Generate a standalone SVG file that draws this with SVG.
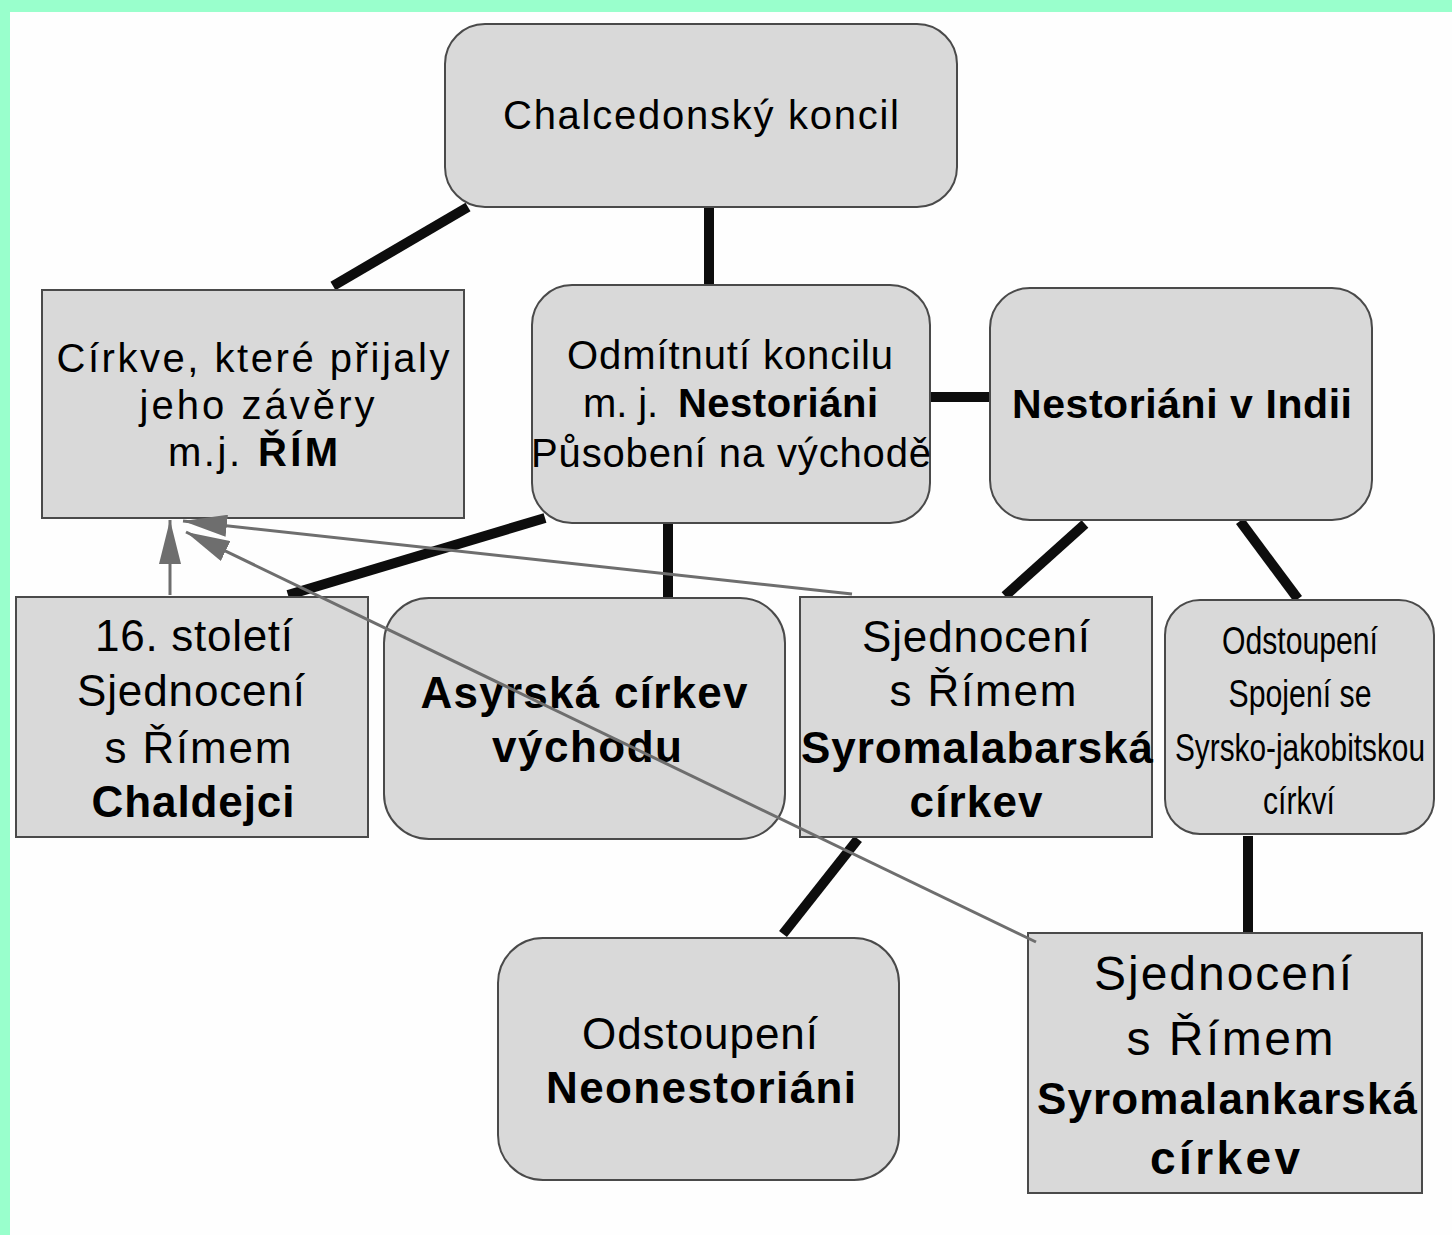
<svg xmlns="http://www.w3.org/2000/svg" width="1452" height="1235" viewBox="0 0 1452 1235">
<defs>
<style>
.box{fill:#d9d9d9;stroke:#4a4a4a;stroke-width:2}
.t{font-family:"Liberation Sans",Arial,sans-serif;fill:#000;text-anchor:middle}
.ts{font-family:"Liberation Sans",Arial,sans-serif;fill:#000;text-anchor:start}
.b{font-weight:bold}
.conn{stroke:#0d0d0d;stroke-width:10;fill:none;stroke-linecap:butt}
.arr{stroke:#6e6e6e;stroke-width:3;fill:none}
</style>
<marker id="ah" viewBox="0 0 44 22" refX="44" refY="11" markerWidth="44" markerHeight="22" markerUnits="userSpaceOnUse" orient="auto">
<path d="M0,0 L44,11 L0,22 z" fill="#6e6e6e"/>
</marker>
</defs>
<rect x="0" y="0" width="1452" height="1235" fill="#fefefe"/>
<rect x="0" y="0" width="1452" height="12" fill="#99ffcc"/>
<rect x="0" y="0" width="10" height="1235" fill="#99ffcc"/>

<g id="connectors">
<line class="conn" x1="468" y1="207" x2="333" y2="286"/>
<line class="conn" x1="709" y1="208" x2="709" y2="285"/>
<line class="conn" x1="930" y1="397" x2="990" y2="397"/>
<line class="conn" x1="545" y1="518" x2="288" y2="595"/>
<line class="conn" x1="668" y1="524" x2="668" y2="598"/>
<line class="conn" x1="1085" y1="524" x2="1005" y2="596"/>
<line class="conn" x1="1240" y1="521" x2="1298" y2="599"/>
<line class="conn" x1="858" y1="839" x2="783" y2="934"/>
<line class="conn" x1="1248" y1="836" x2="1248" y2="933"/>
</g>

<g id="n1"><rect class="box" x="445" y="24" width="512" height="183" rx="40"/>
<text class="t" x="701" y="129" font-size="40" textLength="396">Chalcedonský koncil</text></g>

<g id="n2"><rect class="box" x="42" y="290" width="422" height="228"/>
<text class="t" x="253" y="372" font-size="40" textLength="393">Církve, které přijaly</text>
<text class="t" x="257" y="419" font-size="40" textLength="235">jeho závěry</text>
<text class="ts" x="168" y="466" font-size="40" textLength="72">m.j.</text>
<text class="ts b" x="258" y="466" font-size="40" textLength="80">ŘÍM</text></g>

<g id="n3"><rect class="box" x="532" y="285" width="398" height="238" rx="40"/>
<text class="t" x="730" y="369" font-size="40" textLength="326">Odmítnutí koncilu</text>
<text class="ts" x="583" y="417" font-size="40" textLength="75">m. j.</text>
<text class="ts b" x="678" y="417" font-size="40" textLength="200">Nestoriáni</text>
<text class="t" x="731" y="467" font-size="40" textLength="400">Působení na východě</text></g>

<g id="n4"><rect class="box" x="990" y="288" width="382" height="232" rx="40"/>
<text class="t b" x="1182" y="418" font-size="41" textLength="340">Nestoriáni v Indii</text></g>

<g id="n5"><rect class="box" x="16" y="597" width="352" height="240"/>
<text class="t" x="194" y="651" font-size="44" textLength="198">16. století</text>
<text class="t" x="191" y="706" font-size="44" textLength="228">Sjednocení</text>
<text class="t" x="198" y="763" font-size="44" textLength="187">s Římem</text>
<text class="t b" x="193" y="817" font-size="44" textLength="203">Chaldejci</text></g>

<g id="n6"><rect class="box" x="384" y="598" width="401" height="241" rx="45"/>
<text class="t b" x="584" y="708" font-size="44" textLength="327">Asyrská církev</text>
<text class="t b" x="587" y="762" font-size="44" textLength="190">východu</text></g>

<g id="n7"><rect class="box" x="800" y="597" width="352" height="240"/>
<text class="t" x="976" y="652" font-size="44" textLength="228">Sjednocení</text>
<text class="t" x="983" y="706" font-size="44" textLength="187">s Římem</text>
<text class="t b" x="977" y="763" font-size="44" textLength="352">Syromalabarská</text>
<text class="t b" x="976" y="817" font-size="44" textLength="133">církev</text></g>

<g id="n8"><rect class="box" x="1165" y="600" width="269" height="234" rx="35"/>
<text class="t" x="1300" y="654" font-size="38" textLength="156" lengthAdjust="spacingAndGlyphs">Odstoupení</text>
<text class="t" x="1300" y="707" font-size="38" textLength="143" lengthAdjust="spacingAndGlyphs">Spojení se</text>
<text class="t" x="1300" y="761" font-size="38" textLength="250" lengthAdjust="spacingAndGlyphs">Syrsko-jakobitskou</text>
<text class="t" x="1299" y="814" font-size="38" textLength="72" lengthAdjust="spacingAndGlyphs">církví</text></g>

<g id="n9"><rect class="box" x="498" y="938" width="401" height="242" rx="45"/>
<text class="t" x="700" y="1049" font-size="44" textLength="236">Odstoupení</text>
<text class="t b" x="701" y="1103" font-size="44" textLength="310">Neonestoriáni</text></g>

<g id="n10"><rect class="box" x="1028" y="933" width="394" height="260"/>
<text class="t" x="1223" y="990" font-size="48" textLength="258">Sjednocení</text>
<text class="t" x="1230" y="1055" font-size="48" textLength="207">s Římem</text>
<text class="t b" x="1227" y="1114" font-size="44" textLength="380">Syromalankarská</text>
<text class="t b" x="1225" y="1174" font-size="46" textLength="150">církev</text></g>

<g id="arrows">
<line class="arr" x1="170" y1="595" x2="170" y2="520" marker-end="url(#ah)"/>
<line class="arr" x1="852" y1="594" x2="183" y2="521" marker-end="url(#ah)"/>
<line class="arr" x1="1036" y1="942" x2="186" y2="532" marker-end="url(#ah)"/>
</g>
</svg>
